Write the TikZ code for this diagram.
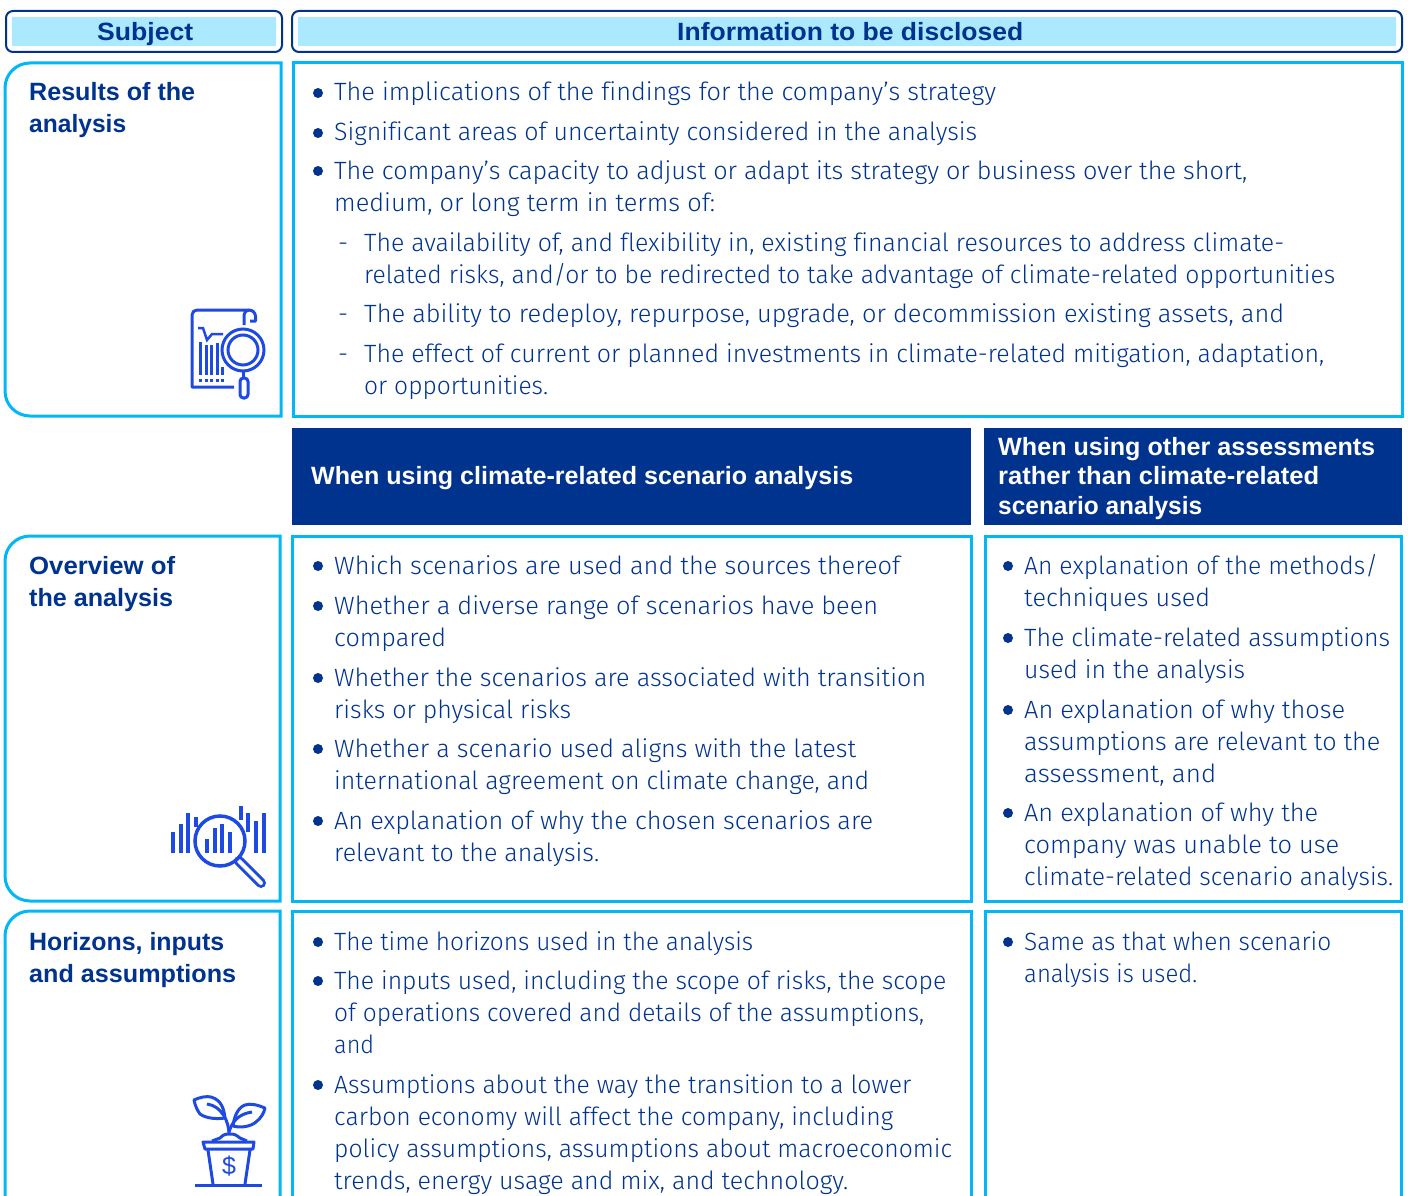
\documentclass[tikz,border=0pt]{standalone}
\usepackage{fontspec}
\usepackage{graphicx}
\setmainfont{Fira Sans}[UprightFont=* Light,BoldFont=* Bold,Ligatures=CommonOff]
\newfontfamily\boldf{Liberation Sans}
\definecolor{navy}{HTML}{00338D}
\definecolor{sky}{HTML}{00B8F5}
\definecolor{pale}{HTML}{ABE9FF}
\definecolor{iconblue}{HTML}{1E49E2}
\newcounter{tl}
\tikzset{
 txt/.style={anchor=base west,inner sep=0pt,text=navy,font=\fontsize{25}{30}\selectfont},
 head/.style={anchor=base west,inner sep=0pt,text=navy,font=\boldf\bfseries\fontsize{25}{30}\selectfont},
 whead/.style={anchor=base west,inner sep=0pt,text=white,font=\boldf\bfseries\fontsize{25}{30}\selectfont},
 bul/.style={circle,fill=navy,inner sep=0pt,minimum size=10pt},
 cell/.style={draw=sky,line width=3pt},
 hdr/.style={draw=navy,line width=2pt,rounded corners=7pt,fill=white},
 ico/.style={draw=iconblue,line width=3pt},
 bar/.style={draw=iconblue,line width=3.6pt},
}
\newcommand{\fit}[3]{\resizebox{\dimexpr#2pt-#1pt\relax}{\height}{#3}}
% x, centre y, end x, text
\newcommand{\tl}[4]{\stepcounter{tl}\node[txt] (t\arabic{tl}) at (#1,#2+8) {\fit{#1}{#3}{#4}};}
\newcommand{\dl}[2]{\stepcounter{tl}\node[txt] (t\arabic{tl}) at (338,#2+8) {#1};}
\newcommand{\bl}[4]{\stepcounter{tl}\node[bul] (b\arabic{tl}) at (#1-16,#2) {};\tl{#1}{#2}{#3}{#4}}
\newcommand{\hl}[6][head]{\node[#1] (#2) at (#3,#4) {\fit{#3}{#5}{#6}};}
\begin{document}
\begin{tikzpicture}[x=1pt,y=-1pt]
\useasboundingbox (0,0) rectangle (1408,1196);
\clip (0,0) rectangle (1408,1196);
% headers
\draw[hdr] (6,11) rectangle (282,52);
\fill[pale] (12,17) rectangle (276,46);
\hl{hs}{97}{41}{193}{Subject}
\draw[hdr] (292,11) rectangle (1402,52);
\fill[pale] (298,17) rectangle (1396,46);
\hl{hi}{677}{41}{1023}{Information to be disclosed}
% row 1
\draw[cell] (281,63) -- (30,63) arc[start angle=270,end angle=180,radius=25] -- (5,391) arc[start angle=180,end angle=90,radius=25] -- (281,416) -- cycle;
\draw[cell] (293,63) rectangle (1402,416);
\hl{r1a}{29}{101}{195}{Results of the}
\hl{r1b}{29}{132}{126}{analysis}
\bl{334}{93}{996}{The implications of the findings for the company’s strategy}
\bl{334}{133}{977}{Significant areas of uncertainty considered in the analysis}
\bl{334}{171}{1247}{The company’s capacity to adjust or adapt its strategy or business over the short,}
\tl{334}{203}{715}{medium, or long term in terms of:}
\dl{-}{243}\tl{364}{243}{1284}{The availability of, and flexibility in, existing financial resources to address climate-}
\tl{364}{275}{1335}{related risks, and/or to be redirected to take advantage of climate-related opportunities}
\dl{-}{314}\tl{364}{314}{1284}{The ability to redeploy, repurpose, upgrade, or decommission existing assets, and}
\dl{-}{354}\tl{364}{354}{1324}{The effect of current or planned investments in climate-related mitigation, adaptation,}
\tl{364}{386}{548}{or opportunities.}
% dark headers
\fill[navy] (292,428) rectangle (971,525);
\fill[navy] (984,428) rectangle (1402,525);
\hl[whead]{d1}{311}{484}{853}{When using climate-related scenario analysis}
\hl[whead]{d2}{998}{455}{1375}{When using other assessments}
\hl[whead]{d3}{998}{484}{1319}{rather than climate-related}
\hl[whead]{d4}{998}{514}{1202}{scenario analysis}
% row 2
\draw[cell] (280,536) -- (30,536) arc[start angle=270,end angle=180,radius=25] -- (5,876) arc[start angle=180,end angle=90,radius=25] -- (280,901) -- cycle;
\draw[cell] (292,536) rectangle (971,901);
\draw[cell] (985,536) rectangle (1401,901);
\hl{r2a}{29}{574}{175}{Overview of}
\hl{r2b}{29}{606}{173}{the analysis}
\bl{334}{566}{900}{Which scenarios are used and the sources thereof}
\bl{334}{606}{878}{Whether a diverse range of scenarios have been}
\tl{334}{638}{446}{compared}
\bl{334}{678}{926}{Whether the scenarios are associated with transition}
\tl{334}{710}{571}{risks or physical risks}
\bl{334}{749}{856}{Whether a scenario used aligns with the latest}
\tl{334}{781}{869}{international agreement on climate change, and}
\bl{334}{821}{873}{An explanation of why the chosen scenarios are}
\tl{334}{853}{599}{relevant to the analysis.}
\bl{1024}{566}{1378}{An explanation of the methods/}
\tl{1024}{598}{1210}{techniques used}
\bl{1024}{638}{1390}{The climate-related assumptions}
\tl{1024}{670}{1245}{used in the analysis}
\bl{1024}{710}{1345}{An explanation of why those}
\tl{1024}{742}{1380}{assumptions are relevant to the}
\tl{1024}{774}{1216}{assessment, and}
\bl{1024}{813}{1318}{An explanation of why the}
\tl{1024}{845}{1339}{company was unable to use}
\tl{1024}{877}{1393}{climate-related scenario analysis.}
% row 3
\draw[cell] (280,1210) -- (280,911) -- (30,911) arc[start angle=270,end angle=180,radius=25] -- (5,1210);
\draw[cell] (292,1210) -- (292,911) -- (971,911) -- (971,1210);
\draw[cell] (985,1210) -- (985,911) -- (1401,911) -- (1401,1210);
\hl{r3a}{29}{950}{224}{Horizons, inputs}
\hl{r3b}{29}{982}{236}{and assumptions}
\bl{334}{942}{753}{The time horizons used in the analysis}
\bl{334}{981}{946}{The inputs used, including the scope of risks, the scope}
\tl{334}{1013}{924}{of operations covered and details of the assumptions,}
\tl{334}{1045}{374}{and}
\bl{334}{1085}{911}{Assumptions about the way the transition to a lower}
\tl{334}{1117}{893}{carbon economy will affect the company, including}
\tl{334}{1149}{952}{policy assumptions, assumptions about macroeconomic}
\tl{334}{1181}{848}{trends, energy usage and mix, and technology.}
\bl{1024}{942}{1331}{Same as that when scenario}
\tl{1024}{974}{1197}{analysis is used.}
% icon 1
\draw[ico,line join=round] (234,387) -- (192,387) -- (192,315) arc[start angle=180,end angle=270,radius=5] -- (249,310) arc[start angle=270,end angle=360,radius=6.5] -- (255.5,321) -- (250,321);
\draw[ico] (244,325) -- (244,315) arc[start angle=180,end angle=270,radius=5];
\draw[ico,line width=2.5pt] (198,328) -- (203,328) -- (207,340) -- (212,334) -- (223,334);
\foreach \x/\t in {200.5/342,206.5/345,211.5/345,217.5/343,222.5/367}{\draw[bar] (\x,\t) -- (\x,375);\draw[bar,line width=3.2pt] (\x,379) -- (\x,382);}
\fill[white] (243,350) circle[radius=21];
\draw[ico] (243,350) circle[radius=21];
\draw[ico] (243,350) circle[radius=15];
\draw[ico] (243.5,371) -- (243.5,378);
\draw[ico,rounded corners=3.5pt] (240,378) rectangle (248,398);
% icon 2
\foreach \x/\a/\b in {173/832/853,181/824/853,188/813/853,196/817/827,207/839/853,215/828/853,222/824/853,230/832/853,241/806/820,248/813/832,256/821/853,264/813/853}{\draw[bar,line width=4pt] (\x,\a) -- (\x,\b);}
\draw[iconblue,line width=10pt,line cap=round] (239,861) -- (261,883);
\draw[white,line width=4pt,line cap=round] (239,861) -- (261,883);
\draw[ico,line width=3.5pt] (220,841) circle[radius=25];
% icon 3
\draw[ico] (195,1185) -- (262,1185);
\draw[ico,line join=round] (203,1142) -- (254,1142) -- (253,1149) -- (205,1149) -- cycle;
\draw[ico] (208,1150) -- (213,1184);
\draw[ico] (250,1150) -- (245,1184);
\draw[ico,line join=round] (212,1141) -- (220,1138) .. controls (224,1134) and (226,1134) .. (230,1134) .. controls (235,1134) and (236,1135) .. (240,1138) -- (247,1141);
\draw[ico,line join=round] (194,1100) .. controls (200,1097) and (207,1096) .. (211,1097) .. controls (222,1100) and (224,1110) .. (225,1118) .. controls (218,1119) and (207,1119) .. (200,1114) .. controls (197,1110) and (195,1105) .. (194,1100) -- cycle;
\draw[ico,line join=round] (265,1108) .. controls (258,1105) and (250,1103) .. (245,1105) .. controls (237,1108) and (234,1118) .. (233,1126) .. controls (240,1128) and (250,1127) .. (256,1122) .. controls (261,1118) and (264,1113) .. (265,1108) -- cycle;
\draw[ico] (229,1134) .. controls (229,1122) and (222,1106) .. (207,1104);
\draw[ico] (229,1132) .. controls (232,1122) and (238,1114) .. (252,1112);
\node[anchor=base,inner sep=0pt,text=iconblue,font=\boldf\fontsize{25}{30}\selectfont] (dollar) at (229,1174) {\$};
\end{tikzpicture}
\end{document}
